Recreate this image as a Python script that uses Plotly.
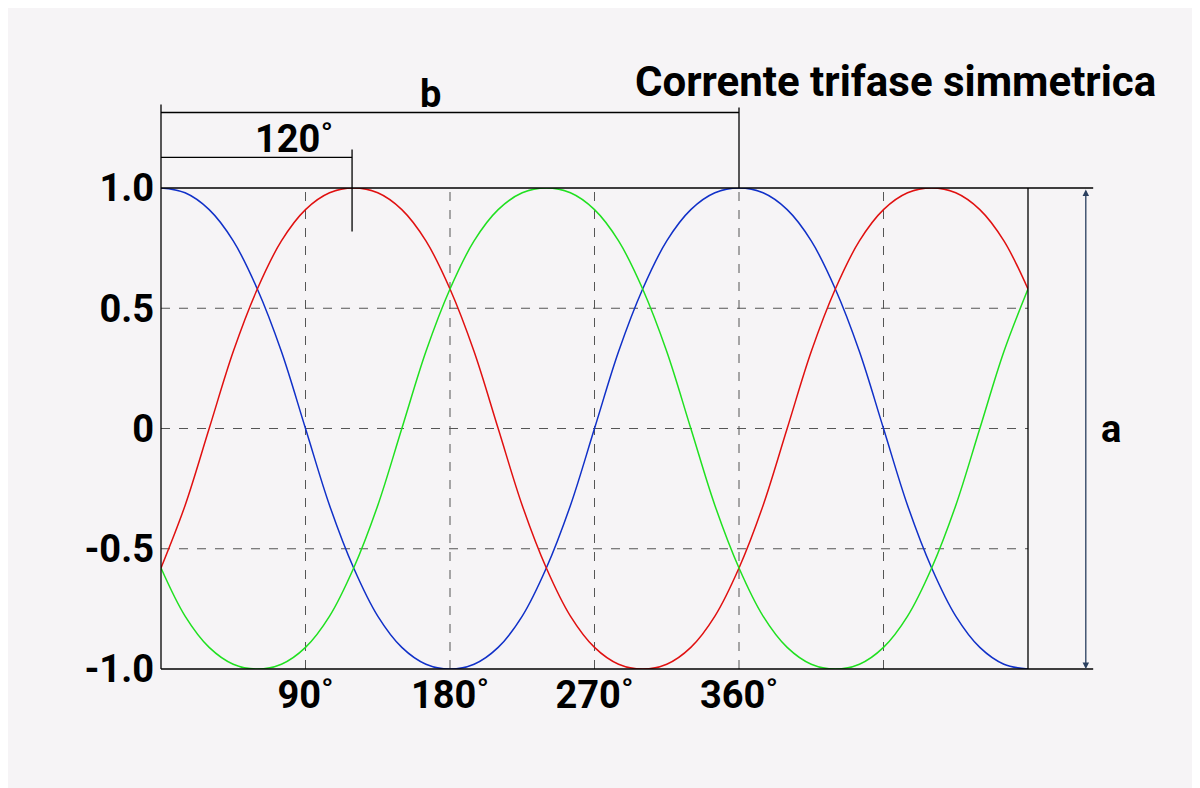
import plotly.graph_objects as go

# phase angle in degrees, every 15 deg
angle = [k * 15 for k in range(37)]

blue = [1, .98, .91, .78, .58, .32, 0, -.32, -.58, -.78, -.91, -.98, -1,
        -.98, -.91, -.78, -.58, -.32, 0, .32, .58, .78, .91, .98, 1,
        .98, .91, .78, .58, .32, 0, -.32, -.58, -.78, -.91, -.98, -1]
red = [-.58, -.32, 0, .32, .58, .78, .91, .98, 1, .98, .91, .78, .58,
       .32, 0, -.32, -.58, -.78, -.91, -.98, -1, -.98, -.91, -.78, -.58,
       -.32, 0, .32, .58, .78, .91, .98, 1, .98, .91, .78, .58]
green = [-.58, -.78, -.91, -.98, -1, -.98, -.91, -.78, -.58, -.32, 0, .32, .58,
         .78, .91, .98, 1, .98, .91, .78, .58, .32, 0, -.32, -.58,
         -.78, -.91, -.98, -1, -.98, -.91, -.78, -.58, -.32, 0, .32, .58]

x_ticks = [90, 180, 270, 360]
x_labels = ["90˚", "180˚", "270˚", "360˚"]
y_ticks = [1, 0.5, 0, -0.5, -1]
y_labels = ["1.0", "0.5", "0", "-0.5", "-1.0"]

FONT = "Roboto"
BG = "#f6f4f6"


def px(deg):
    return deg / 540


def py(v):
    return (v + 1) / 2


fig = go.Figure()
for vals, col in [(blue, "#1030c8"), (red, "#e01010"), (green, "#20e020")]:
    fig.add_trace(go.Scatter(x=angle, y=vals, mode="lines", line_shape="spline",
                             line=dict(color=col, width=1.5), showlegend=False,
                             hoverinfo="skip"))

shapes = []
# dashed grid
for gx in [90, 180, 270, 360, 450]:
    shapes.append(dict(type="line", x0=gx, x1=gx, y0=-1, y1=1, xref="x", yref="y",
                       line=dict(color="#555", width=1, dash="dash"), layer="below"))
for gy in [0.5, 0, -0.5]:
    shapes.append(dict(type="line", x0=0, x1=540, y0=gy, y1=gy, xref="x", yref="y",
                       line=dict(color="#555", width=1, dash="dash"), layer="below"))
solid = dict(color="black", width=1.3)
for x0, x1, y0, y1 in [
    (0, 580.6, 1, 1), (0, 580.6, -1, -1), (540, 540, -1, 1), (0, 0, -1, 1.347),
    (0, 119, 1.127, 1.127), (119, 119, 0.819, 1.16),      # 120 deg bracket
    (0, 360, 1.314, 1.314), (360, 360, 1, 1.335),          # b bracket
]:
    shapes.append(dict(type="line", xref="paper", yref="paper",
                       x0=px(x0), x1=px(x1), y0=py(y0), y1=py(y1), line=solid))

bold = dict(family=FONT, size=38, color="black", weight="bold")
annotations = [
    dict(x=px(576), y=py(-1), xref="paper", yref="paper", ax=0, ay=-481,
         showarrow=True, arrowhead=2, arrowside="end+start", arrowsize=1,
         arrowwidth=1.3, text=""),
    dict(x=px(584), y=py(0), xref="paper", yref="paper", text="a",
         showarrow=False, xanchor="left", font=bold),
    dict(x=px(160), y=py(1.314), xref="paper", yref="paper", text="b",
         showarrow=False, yanchor="bottom", yshift=-6, font=bold),
    dict(x=px(57), y=py(1.127), xref="paper", yref="paper", text="120˚",
         showarrow=False, yanchor="bottom", yshift=-6, font=bold),
    dict(x=1.150, y=1.276, xref="paper", yref="paper",
         text="Corrente trifase simmetrica", showarrow=False, xanchor="right",
         font=dict(family=FONT, size=42, color="black", weight="bold")),
]

fig.update_layout(
    width=1200, height=788,
    margin=dict(l=153, r=180, t=180, b=127),
    paper_bgcolor=BG, plot_bgcolor=BG,
    shapes=shapes, annotations=annotations,
    xaxis=dict(range=[0, 540], tickvals=x_ticks, ticktext=x_labels,
               showgrid=False, zeroline=False, tickfont=bold, ticks=""),
    yaxis=dict(range=[-1, 1], tickvals=y_ticks, ticktext=y_labels,
               showgrid=False, zeroline=False, tickfont=bold, ticks="",
               ticklabelstandoff=6),
)
fig.update_traces(cliponaxis=False)

fig.write_html("out.html")
